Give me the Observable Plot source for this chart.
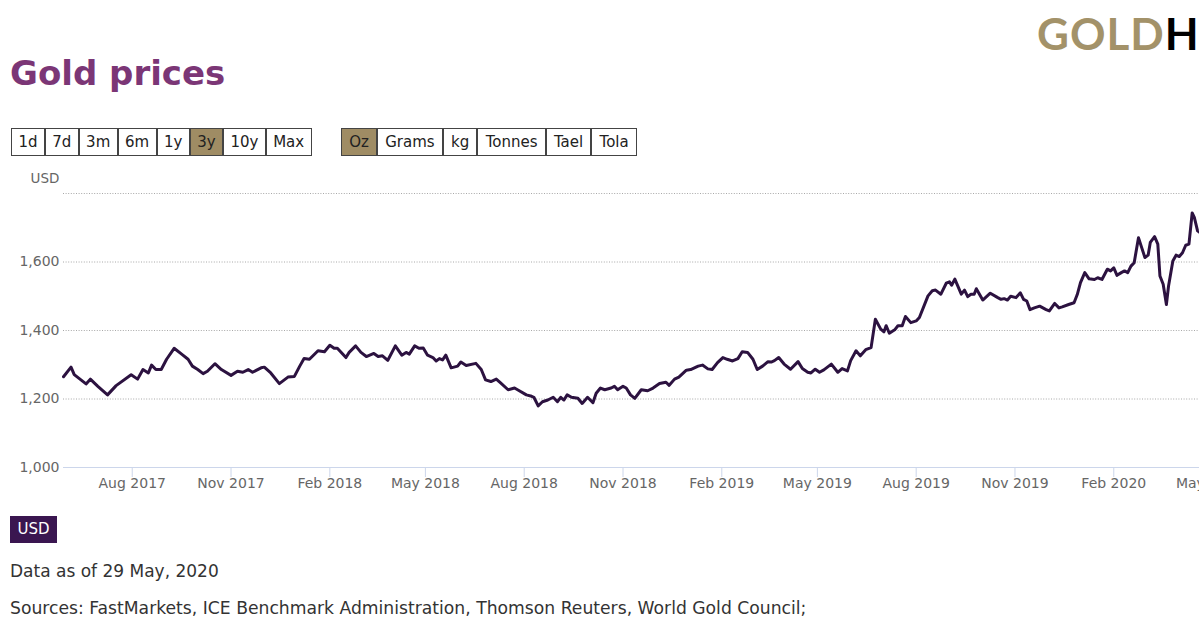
<!DOCTYPE html>
<html>
<head>
<meta charset="utf-8">
<script src="https://cdn.jsdelivr.net/npm/d3@7"></script>
<script src="https://cdn.jsdelivr.net/npm/@observablehq/plot@0.6"></script>
<style>
  html, body { margin: 0; padding: 0; background: #fff; }
  body { width: 1199px; height: 617px; overflow: hidden; position: relative; font-family: "DejaVu Sans", sans-serif; }
  .abs { position: absolute; white-space: nowrap; }
  #logo { left: 1037px; top: 11px; font-family: "Lato", sans-serif; font-weight: 700; font-size: 44px; line-height: 44px; letter-spacing: 1px; color: #a39269; }
  #logo span { color: #000; }
  #title { left: 10px; top: 56px; font-size: 34px; line-height: 34px; font-weight: bold; color: #7b3676; }
  .group { position: absolute; top: 128px; display: flex; }
  .btn { font-size: 15px; line-height: 26px; height: 26px; padding: 0 6.4px; border: 1px solid #444; color: #222; background: #fff; }
  #units .btn { padding: 0 7.2px; }
  .btn.on { background: #9f8c64; }
  #legend { left: 10px; top: 516px; width: 47px; height: 27px; background: #3a1650; color: #fff; font-size: 15px; line-height: 27px; text-align: center; }
  #asof { left: 10px; top: 563px; font-size: 17px; line-height: 17px; color: #333; }
  #src { left: 10px; top: 600px; font-size: 17.2px; line-height: 17px; color: #333; }
  #chart { position: absolute; left: 0; top: 165px; width: 1250px; height: 335px; }
  #chart svg { max-width: none !important; }
</style>
</head>
<body>
<div id="logo" class="abs">GOLD<span>HUB</span></div>
<div id="title" class="abs">Gold prices</div>
<div id="periods" class="group" style="left:11px"></div>
<div id="units" class="group" style="left:341px"></div>
<div id="chart"></div>
<div id="legend" class="abs">USD</div>
<div id="asof" class="abs">Data as of 29 May, 2020</div>
<div id="src" class="abs">Sources: FastMarkets, ICE Benchmark Administration, Thomson Reuters, World Gold Council;</div>
<script>
// ---- data ----
const periodButtons = ["1d", "7d", "3m", "6m", "1y", "3y", "10y", "Max"];
const activePeriod = "3y";
const unitButtons = ["Oz", "Grams", "kg", "Tonnes", "Tael", "Tola"];
const activeUnit = "Oz";

const xDomain = ["2017-05-29", "2020-05-29"];
const xTicks = ["2017-08-01", "2017-11-01", "2018-02-01", "2018-05-01", "2018-08-01", "2018-11-01",
  "2019-02-01", "2019-05-01", "2019-08-01", "2019-11-01", "2020-02-01", "2020-05-01"];
const yTicks = [1000, 1200, 1400, 1600, 1800];
const yLabelled = [1000, 1200, 1400, 1600];
const yUnit = "USD";

const dates = [
  "2017-05-29","2017-06-05","2017-06-08","2017-06-19","2017-06-23","2017-06-30","2017-07-09","2017-07-17","2017-07-31","2017-08-06",
  "2017-08-11","2017-08-16","2017-08-19","2017-08-23","2017-08-28","2017-09-02","2017-09-09","2017-09-16","2017-09-22","2017-09-26",
  "2017-10-01","2017-10-06","2017-10-10","2017-10-17","2017-10-23","2017-11-01","2017-11-07","2017-11-12","2017-11-17","2017-11-21",
  "2017-11-29","2017-12-02","2017-12-08","2017-12-16","2017-12-24","2017-12-30","2018-01-04","2018-01-08","2018-01-13","2018-01-21",
  "2018-01-27","2018-02-01","2018-02-05","2018-02-08","2018-02-16","2018-02-19","2018-02-25","2018-03-02","2018-03-07","2018-03-14",
  "2018-03-18","2018-03-22","2018-03-27","2018-04-03","2018-04-09","2018-04-13","2018-04-16","2018-04-21","2018-04-25","2018-04-29",
  "2018-05-03","2018-05-08","2018-05-11","2018-05-14","2018-05-17","2018-05-20","2018-05-25","2018-05-31","2018-06-03","2018-06-08",
  "2018-06-17","2018-06-22","2018-06-26","2018-07-01","2018-07-06","2018-07-10","2018-07-17","2018-07-23","2018-07-27","2018-08-03",
  "2018-08-07","2018-08-10","2018-08-14","2018-08-18","2018-08-23","2018-08-28","2018-09-01","2018-09-04","2018-09-07","2018-09-10",
  "2018-09-14","2018-09-20","2018-09-24","2018-09-29","2018-10-04","2018-10-07","2018-10-11","2018-10-15","2018-10-21","2018-10-24",
  "2018-10-27","2018-11-01","2018-11-04","2018-11-08","2018-11-12","2018-11-18","2018-11-24","2018-11-29","2018-12-05","2018-12-11",
  "2018-12-14","2018-12-19","2018-12-23","2018-12-30","2019-01-03","2019-01-10","2019-01-14","2019-01-19","2019-01-23","2019-01-28",
  "2019-02-02","2019-02-06","2019-02-11","2019-02-16","2019-02-20","2019-02-25","2019-03-02","2019-03-06","2019-03-11","2019-03-16",
  "2019-03-19","2019-03-22","2019-03-26","2019-03-31","2019-04-06","2019-04-13","2019-04-17","2019-04-22","2019-04-25","2019-04-29",
  "2019-05-03","2019-05-07","2019-05-14","2019-05-20","2019-05-24","2019-05-29","2019-06-01","2019-06-06","2019-06-10","2019-06-15",
  "2019-06-20","2019-06-24","2019-06-29","2019-07-02","2019-07-04","2019-07-07","2019-07-12","2019-07-15","2019-07-19","2019-07-22",
  "2019-07-27","2019-08-01","2019-08-04","2019-08-12","2019-08-16","2019-08-19","2019-08-24","2019-08-29","2019-09-01","2019-09-03",
  "2019-09-06","2019-09-12","2019-09-15","2019-09-18","2019-09-21","2019-09-24","2019-09-26","2019-10-02","2019-10-09","2019-10-16",
  "2019-10-19","2019-10-22","2019-10-25","2019-10-28","2019-11-02","2019-11-06","2019-11-09","2019-11-12","2019-11-15","2019-11-19",
  "2019-11-24","2019-11-30","2019-12-03","2019-12-08","2019-12-12","2019-12-15","2019-12-21","2019-12-26","2019-12-29","2020-01-01",
  "2020-01-05","2020-01-09","2020-01-14","2020-01-17","2020-01-21","2020-01-26","2020-01-29","2020-02-01","2020-02-04","2020-02-08",
  "2020-02-11","2020-02-14","2020-02-17","2020-02-20","2020-02-24","2020-02-27","2020-03-01","2020-03-04","2020-03-06","2020-03-10",
  "2020-03-13","2020-03-15","2020-03-18","2020-03-21","2020-03-23","2020-03-27","2020-03-30","2020-04-02","2020-04-05","2020-04-08",
  "2020-04-11","2020-04-14","2020-04-16","2020-04-19","2020-04-23"
];
const prices = [
  1265,1293,1271,1244,1258,1237,1212,1239,1271,1258,
  1286,1276,1299,1286,1286,1316,1348,1331,1316,1296,
  1286,1274,1281,1303,1286,1269,1281,1278,1286,1278,
  1291,1293,1276,1245,1264,1266,1296,1318,1316,1341,
  1338,1357,1348,1348,1321,1336,1355,1336,1324,1333,
  1324,1326,1313,1355,1328,1336,1331,1355,1348,1349,
  1328,1321,1311,1318,1314,1328,1291,1296,1308,1298,
  1304,1286,1256,1251,1258,1247,1227,1232,1225,1212,
  1209,1205,1180,1192,1197,1205,1192,1205,1197,1212,
  1205,1202,1187,1205,1189,1217,1232,1227,1232,1237,
  1227,1237,1232,1212,1202,1227,1224,1232,1245,1249,
  1240,1258,1264,1284,1286,1296,1299,1288,1286,1306,
  1321,1316,1311,1318,1338,1336,1316,1286,1296,1309,
  1308,1312,1321,1302,1287,1309,1289,1278,1276,1287,
  1278,1285,1302,1278,1289,1282,1312,1341,1326,1344,
  1350,1433,1404,1396,1414,1392,1402,1414,1414,1441,
  1423,1428,1438,1501,1516,1518,1506,1538,1542,1532,
  1550,1506,1518,1499,1506,1506,1522,1489,1509,1496,
  1491,1493,1489,1500,1496,1510,1491,1486,1461,1466,
  1471,1461,1457,1479,1466,1469,1476,1481,1505,1540,
  1569,1551,1549,1554,1549,1579,1574,1583,1561,1569,
  1574,1569,1588,1598,1671,1642,1613,1620,1657,1674,
  1652,1559,1535,1476,1530,1603,1620,1616,1627,1649,
  1652,1743,1730,1691,1682
];

// ---- buttons ----
function buttons(id, labels, active) {
  const el = document.getElementById(id);
  for (const l of labels) {
    const b = document.createElement("div");
    b.className = "btn" + (l === active ? " on" : "");
    b.textContent = l;
    el.appendChild(b);
  }
}
buttons("periods", periodButtons, activePeriod);
buttons("units", unitButtons, activeUnit);

// ---- chart ----
const data = dates.map((d, i) => ({date: new Date(d), price: prices[i]}));
const fmtY = d3.format(",");

const chart = Plot.plot({
  width: 1250,
  height: 335,
  marginTop: 28,
  marginLeft: 63,
  marginRight: 10,
  marginBottom: 33,
  style: {fontFamily: "DejaVu Sans, sans-serif", fontSize: "14px", overflow: "visible", background: "transparent", maxWidth: "none"},
  x: {type: "utc", domain: xDomain.map(d => new Date(d))},
  y: {domain: [yTicks[0], yTicks[yTicks.length - 1]]},
  marks: [
    Plot.gridY(yTicks.slice(1), {stroke: "#a8a8a8", strokeOpacity: 1, strokeDasharray: "1,1.6"}),
    Plot.ruleY([yTicks[0]], {stroke: "#ccd6eb", strokeWidth: 1.2}),
    Plot.axisX(xTicks.map(d => new Date(d)), {tickFormat: d3.utcFormat("%b %Y"), tickSize: 10, tickPadding: 1,
      stroke: "#ccd6eb", fill: "#666", label: null}),
    Plot.axisY(yLabelled, {tickFormat: fmtY, tickSize: 0, tickPadding: 4, fill: "#666", label: null}),
    Plot.text([yUnit], {frameAnchor: "top-left", textAnchor: "start", lineAnchor: "middle", dx: -33, dy: -15,
      fill: "#666", fontSize: 13.5}),
    Plot.lineY(data, {x: "date", y: "price", stroke: "#2c1240", strokeWidth: 3, strokeLinejoin: "round"})
  ]
});
chart.style.maxWidth = "none";
chart.setAttribute("width", 1250);
document.getElementById("chart").appendChild(chart);
</script>
</body>
</html>
